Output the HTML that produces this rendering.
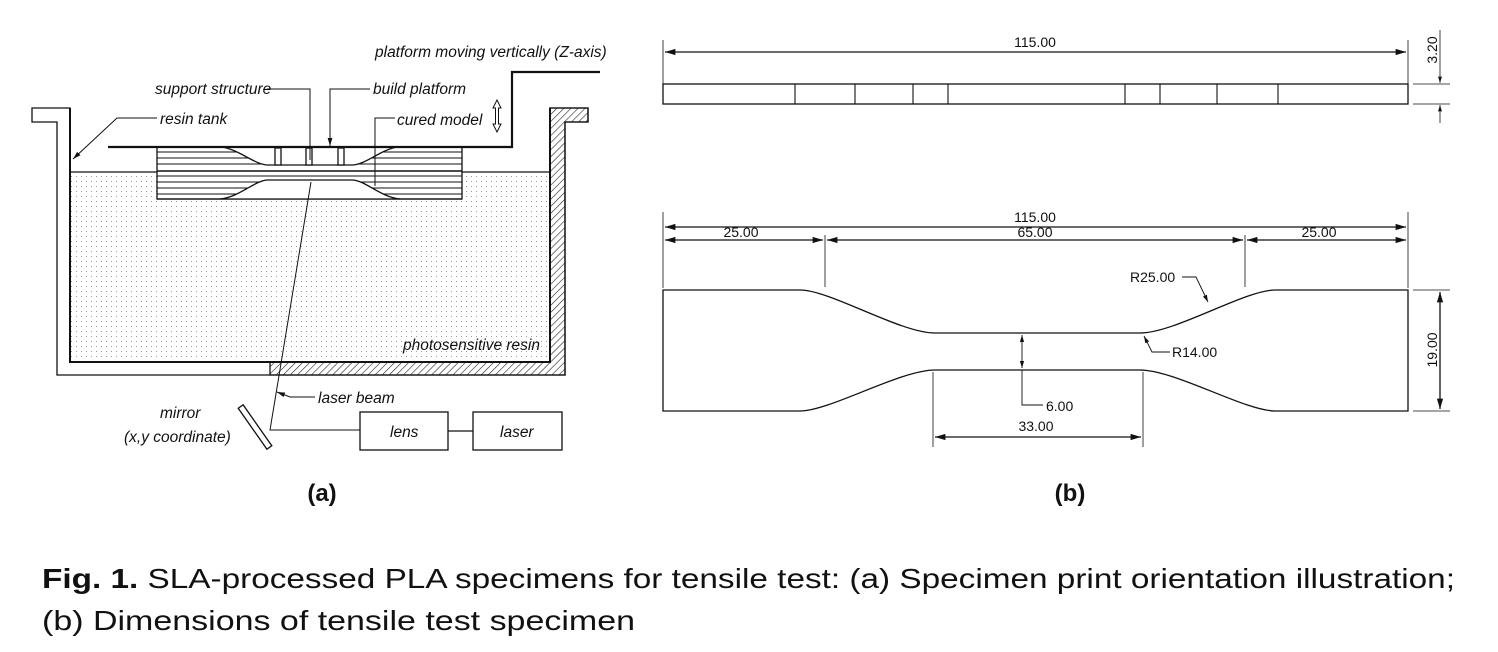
<!DOCTYPE html>
<html><head><meta charset="utf-8"><style>
html,body{margin:0;padding:0;background:#fff;}
svg{display:block;}
.it{font-family:"Liberation Sans",sans-serif;font-style:italic;font-size:15.5px;fill:#111;}
.dm{font-family:"Liberation Sans",sans-serif;font-size:14px;fill:#111;}
</style></head><body>
<svg width="1498" height="652" viewBox="0 0 1498 652" xmlns="http://www.w3.org/2000/svg">
<defs>
<pattern id="dots" width="5" height="5" patternUnits="userSpaceOnUse"><rect x="1" y="1" width="1" height="1" fill="#999"/></pattern>
<pattern id="hatch" width="5" height="5" patternUnits="userSpaceOnUse" patternTransform="rotate(45)"><line x1="0" y1="0" x2="0" y2="5" stroke="#222" stroke-width="1.2"/></pattern>
<marker id="ar" viewBox="0 0 10 10" refX="10" refY="5" markerWidth="8" markerHeight="8" orient="auto-start-reverse"><path d="M0,2 L10,5 L0,8z" fill="#111"/></marker>
</defs>
<g stroke="#111" fill="none" stroke-width="1.3">
<path d="M32,108 H70 V362 H550 V108 H588 V122 H565 V375 H57 V122 H32 Z" fill="#fff"/>
<path d="M550,108 H588 V122 H565 V375 H270 V362 H550 Z" fill="url(#hatch)"/>
<rect x="70" y="172" width="480" height="190" fill="url(#dots)" stroke="none"/>
<path d="M70,108 V362 H550 V108" stroke-width="2"/>
<line x1="70" y1="172" x2="550" y2="172"/>
<rect x="157" y="147" width="305" height="52" fill="#fff"/>
<g stroke-width="1">
<line x1="157" y1="152" x2="462" y2="152"/><line x1="157" y1="158" x2="462" y2="158"/><line x1="157" y1="164" x2="462" y2="164"/>
<line x1="157" y1="176" x2="462" y2="176"/><line x1="157" y1="182" x2="462" y2="182"/><line x1="157" y1="188" x2="462" y2="188"/><line x1="157" y1="194" x2="462" y2="194"/>
</g>
<path d="M222,147 C240,150 255,165 268,165 H352 C365,165 380,150 397,147" fill="#fff"/>
<line x1="157" y1="171" x2="462" y2="171" stroke-width="1.6"/>
<path d="M220,199 C240,197 255,180 268,180 H352 C365,180 380,197 400,199" fill="#fff"/>
<line x1="157" y1="199" x2="462" y2="199"/>
<rect x="275" y="148" width="6" height="17" fill="#fff"/><rect x="306" y="148" width="6" height="17" fill="#fff"/><rect x="338" y="148" width="6" height="17" fill="#fff"/>
<path d="M108,147 H512 V72 H600" stroke-width="2.2"/>
<path d="M497,100 L493,108 H495.5 V124 H493 L497,132 L501,124 H498.5 V108 H501 Z" fill="#fff" stroke-width="1"/>
<path d="M267,89 H310 V160" stroke-width="1"/>
<path d="M370,89 H330 V146" stroke-width="1" marker-end="url(#ar)"/>
<path d="M157,118 H117 L73,159" stroke-width="1" marker-end="url(#ar)"/>
<path d="M395,118 H375 V186" stroke-width="1"/>
<path d="M311,182 L270,430 H360" stroke-width="1"/>
<path d="M315,397 H290 L277,392" stroke-width="1" marker-end="url(#ar)"/>
<rect x="360" y="412" width="88" height="38"/>
<rect x="473" y="412" width="89" height="38"/>
<line x1="448" y1="431" x2="473" y2="431"/>
<rect x="-3" y="-25" width="6" height="50" transform="translate(255,427) rotate(-35)" fill="#fff"/>
</g>
<text class="it" x="375" y="57">platform moving vertically (Z-axis)</text>
<text class="it" x="155" y="94">support structure</text>
<text class="it" x="373" y="94">build platform</text>
<text class="it" x="160" y="124">resin tank</text>
<text class="it" x="397" y="125">cured model</text>
<text class="it" x="403" y="350">photosensitive resin</text>
<text class="it" x="318" y="403">laser beam</text>
<text class="it" x="160" y="418">mirror</text>
<text class="it" x="124" y="442">(x,y coordinate)</text>
<text class="it" x="390" y="437">lens</text>
<text class="it" x="500" y="437">laser</text>

<g stroke="#111" fill="none" stroke-width="1.3">
<line x1="663" y1="40" x2="663" y2="84" stroke-width="0.8"/><line x1="1408" y1="40" x2="1408" y2="84" stroke-width="0.8"/>
<line x1="665" y1="52" x2="1406" y2="52" marker-start="url(#ar)" marker-end="url(#ar)"/>
<rect x="663" y="84" width="745" height="20"/>
<g stroke-width="1.1"><line x1="795" y1="84" x2="795" y2="104"/><line x1="855" y1="84" x2="855" y2="104"/><line x1="913" y1="84" x2="913" y2="104"/><line x1="948" y1="84" x2="948" y2="104"/><line x1="1125" y1="84" x2="1125" y2="104"/><line x1="1160" y1="84" x2="1160" y2="104"/><line x1="1217" y1="84" x2="1217" y2="104"/><line x1="1278" y1="84" x2="1278" y2="104"/></g>
<line x1="1413" y1="84" x2="1450" y2="84" stroke-width="0.8"/><line x1="1413" y1="104" x2="1450" y2="104" stroke-width="0.8"/>
<line x1="1440" y1="30" x2="1440" y2="83" stroke-width="0.8" marker-end="url(#ar)"/>
<line x1="1440" y1="123" x2="1440" y2="105" stroke-width="0.8" marker-end="url(#ar)"/>
<line x1="663" y1="212" x2="663" y2="288" stroke-width="0.8"/><line x1="1408" y1="212" x2="1408" y2="288" stroke-width="0.8"/>
<line x1="665" y1="227" x2="1406" y2="227" marker-start="url(#ar)" marker-end="url(#ar)"/>
<line x1="825" y1="235" x2="825" y2="287" stroke-width="0.8"/><line x1="1245" y1="235" x2="1245" y2="287" stroke-width="0.8"/>
<line x1="665" y1="240" x2="823" y2="240" marker-start="url(#ar)" marker-end="url(#ar)"/>
<line x1="827" y1="240" x2="1243" y2="240" marker-start="url(#ar)" marker-end="url(#ar)"/>
<line x1="1247" y1="240" x2="1406" y2="240" marker-start="url(#ar)" marker-end="url(#ar)"/>
<path d="M663,290 H800 C830,290 900,333 935,333 H1140 C1175,333 1245,290 1275,290 H1408 V411 H1275 C1245,411 1175,370 1140,370 H935 C900,370 830,411 800,411 H663 Z"/>
<line x1="1022" y1="335" x2="1022" y2="368" stroke-width="0.9" marker-start="url(#ar)" marker-end="url(#ar)"/>
<path d="M1022,370 V405 H1043" stroke-width="0.9"/>
<line x1="933" y1="372" x2="933" y2="447" stroke-width="0.8"/><line x1="1143" y1="372" x2="1143" y2="447" stroke-width="0.8"/>
<line x1="935" y1="437" x2="1141" y2="437" marker-start="url(#ar)" marker-end="url(#ar)"/>
<line x1="1413" y1="290" x2="1450" y2="290" stroke-width="0.8"/><line x1="1413" y1="411" x2="1450" y2="411" stroke-width="0.8"/>
<line x1="1440" y1="292" x2="1440" y2="409" marker-start="url(#ar)" marker-end="url(#ar)"/>
<path d="M1182,277 H1196 L1208,302" stroke-width="0.9" marker-end="url(#ar)"/>
<path d="M1170,352 H1152 L1144,336" stroke-width="0.9" marker-end="url(#ar)"/>
</g>
<text class="dm" x="1035" y="47" text-anchor="middle">115.00</text>
<text class="dm" transform="translate(1437,50) rotate(-90)" text-anchor="middle">3.20</text>
<text class="dm" x="1035" y="222" text-anchor="middle">115.00</text>
<text class="dm" x="741" y="237" text-anchor="middle">25.00</text>
<text class="dm" x="1035" y="237" text-anchor="middle">65.00</text>
<text class="dm" x="1319" y="237" text-anchor="middle">25.00</text>
<text class="dm" x="1130" y="282">R25.00</text>
<text class="dm" x="1172" y="357">R14.00</text>
<text class="dm" x="1046" y="411">6.00</text>
<text class="dm" x="1036" y="431" text-anchor="middle">33.00</text>
<text class="dm" transform="translate(1437,350) rotate(-90)" text-anchor="middle">19.00</text>

<text x="322" y="501" text-anchor="middle" style="font-family:'Liberation Sans',sans-serif;font-weight:bold;font-size:24px" fill="#111">(a)</text>
<text x="1070" y="501" text-anchor="middle" style="font-family:'Liberation Sans',sans-serif;font-weight:bold;font-size:24px" fill="#111">(b)</text>
<text x="42" y="588" textLength="1413" lengthAdjust="spacingAndGlyphs" style="font-family:'Liberation Sans',sans-serif;font-size:28px" fill="#111"><tspan font-weight="bold">Fig. 1.</tspan> SLA-processed PLA specimens for tensile test: (a) Specimen print orientation illustration;</text>
<text x="42" y="630" textLength="593" lengthAdjust="spacingAndGlyphs" style="font-family:'Liberation Sans',sans-serif;font-size:28px" fill="#111">(b) Dimensions of tensile test specimen</text>
</svg>
</body></html>
